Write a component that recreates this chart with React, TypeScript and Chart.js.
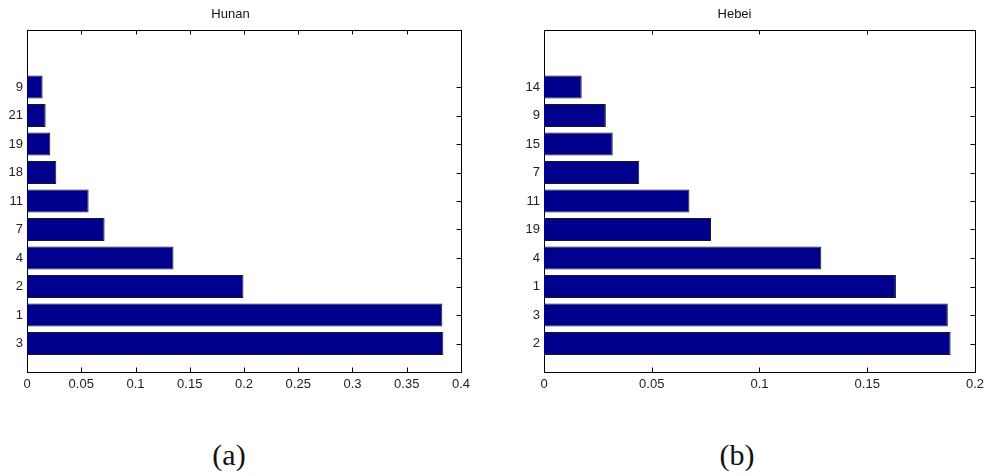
import React, { useEffect, useRef } from "react";
import { Chart, registerables } from "chart.js";

Chart.register(...registerables);

const hunanLabels = ["3", "1", "2", "4", "7", "11", "18", "19", "21", "9"];
const hunanValues = [0.3837, 0.3828, 0.1995, 0.135, 0.0715, 0.0568, 0.027, 0.0215, 0.0172, 0.0144];
const hunanXTicks = [0, 0.05, 0.1, 0.15, 0.2, 0.25, 0.3, 0.35, 0.4];

const hebeiLabels = ["2", "3", "1", "4", "19", "11", "7", "15", "9", "14"];
const hebeiValues = [0.1887, 0.1874, 0.1633, 0.1287, 0.0775, 0.0675, 0.0442, 0.0319, 0.0287, 0.0175];
const hebeiXTicks = [0, 0.05, 0.1, 0.15, 0.2];

const Y_MAX = 12;
const BAR_FILL = "#00008c";
const FONT = "'Liberation Sans', Arial, Helvetica, sans-serif";

const boxPlugin = {
  id: "matlabBox",
  beforeDatasetsDraw(chart: any) {
    const { ctx, chartArea } = chart;
    const { left, right, top, bottom } = chartArea;
    const tl = 4.5;
    ctx.save();
    ctx.strokeStyle = "#000";
    ctx.lineWidth = 1;
    ctx.beginPath();
    const xs = chart.scales.x;
    xs.ticks.forEach((t: any) => {
      const px = Math.round(xs.getPixelForValue(t.value)) + 0.5;
      ctx.moveTo(px, bottom);
      ctx.lineTo(px, bottom - tl);
      ctx.moveTo(px, top);
      ctx.lineTo(px, top + tl);
    });
    const ys = chart.scales.y;
    ys.ticks.forEach((t: any) => {
      const py = Math.round(ys.getPixelForValue(t.value)) + 0.5;
      ctx.moveTo(left, py);
      ctx.lineTo(left + tl, py);
      ctx.moveTo(right, py);
      ctx.lineTo(right - tl, py);
    });
    ctx.stroke();
    ctx.strokeRect(Math.round(left) + 0.5, Math.round(top) + 0.5, Math.round(right - left), Math.round(bottom - top));
    ctx.restore();
  },
};

function fmt(v: number) {
  return String(Number(v.toFixed(2)));
}

function BarPanel(props: {
  title: string;
  labels: string[];
  values: number[];
  xTicks: number[];
  width: number;
  yAxisWidth: number;
  rightPad: number;
}) {
  const ref = useRef<HTMLCanvasElement>(null);
  useEffect(() => {
    const { title, labels, values, xTicks, yAxisWidth, rightPad } = props;
    const chart = new Chart(ref.current as HTMLCanvasElement, {
      type: "bar",
      data: {
        datasets: [
          {
            data: values.map((v, i) => ({ x: v, y: i + 1 })) as any,
            backgroundColor: BAR_FILL,
            borderColor: "#1a1a1a",
            borderWidth: 1,
            barPercentage: 0.8,
            categoryPercentage: 1,
          },
        ],
      },
      options: {
        indexAxis: "y",
        animation: false,
        responsive: false,
        maintainAspectRatio: false,
        layout: { padding: { left: 0, right: rightPad, top: 0, bottom: 0 } },
        plugins: {
          legend: { display: false },
          tooltip: { enabled: false },
          title: {
            display: true,
            text: title,
            color: "#111",
            font: { family: FONT, size: 13, weight: "normal" },
            padding: { top: 7, bottom: 7.4 },
          },
        },
        scales: {
          x: {
            type: "linear",
            offset: false,
            min: xTicks[0],
            max: xTicks[xTicks.length - 1],
            grid: { display: false, drawTicks: false, offset: false },
            border: { display: false },
            afterBuildTicks: (s: any) => {
              s.ticks = xTicks.map((v) => ({ value: v }));
            },
            afterFit: (s: any) => {
              s.height = 28;
            },
            ticks: {
              color: "#222",
              font: { family: FONT, size: 13 },
              padding: 5,
              maxRotation: 0,
              autoSkip: false,
              callback: (v: any) => fmt(Number(v)),
            },
          },
          y: {
            type: "linear",
            offset: false,
            min: 0,
            max: Y_MAX,
            grid: { display: false, drawTicks: false, offset: false },
            border: { display: false },
            afterBuildTicks: (s: any) => {
              s.ticks = labels.map((_, i) => ({ value: i + 1 }));
            },
            afterFit: (s: any) => {
              s.width = yAxisWidth;
            },
            ticks: {
              color: "#222",
              font: { family: FONT, size: 13 },
              padding: 4,
              autoSkip: false,
              callback: (v: any) => labels[Number(v) - 1] ?? "",
            },
          },
        },
      },
      plugins: [boxPlugin],
    });
    return () => chart.destroy();
  }, []);
  return <canvas ref={ref} width={props.width} height={400} style={{ display: "block" }} />;
}

export default function App() {
  const cap: React.CSSProperties = {
    position: "absolute",
    width: 100,
    textAlign: "center",
    fontFamily: "'Liberation Serif', 'DejaVu Serif', serif",
    fontSize: 30,
    lineHeight: "30px",
    color: "#111",
  };
  return (
    <div style={{ position: "absolute", left: 0, top: 0, width: 989, height: 476, background: "#fff" }}>
      <div style={{ position: "absolute", left: 0, top: 0 }}>
        <BarPanel title="Hunan" labels={hunanLabels} values={hunanValues} xTicks={hunanXTicks} width={490} yAxisWidth={27} rightPad={29} />
      </div>
      <div style={{ position: "absolute", left: 490, top: 0 }}>
        <BarPanel title="Hebei" labels={hebeiLabels} values={hebeiValues} xTicks={hebeiXTicks} width={499} yAxisWidth={54} rightPad={10} />
      </div>
      <div style={{ ...cap, left: 179, top: 440 }}>(a)</div>
      <div style={{ ...cap, left: 687, top: 440 }}>(b)</div>
    </div>
  );
}
